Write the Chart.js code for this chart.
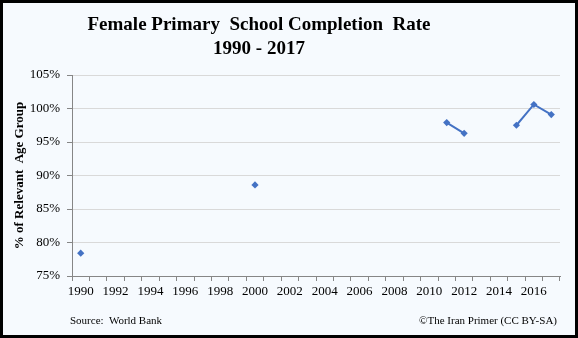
<!DOCTYPE html>
<html><head><meta charset="utf-8">
<script src="https://cdn.jsdelivr.net/npm/chart.js@4/dist/chart.umd.min.js"></script>
<style>
html,body{margin:0;padding:0;background:#fff;}
#frame{position:absolute;left:0;top:0;width:578px;height:338px;box-sizing:border-box;border:3px solid #000;background:#F6FAFE;}
#wrap{position:absolute;left:3px;top:3px;width:572px;height:332px;}
.t{position:absolute;font-family:"Liberation Serif","Times New Roman",serif;color:#000;white-space:pre;}
#title{left:0;top:12px;width:518px;text-align:center;font-size:19px;font-weight:bold;line-height:24px;}
#src{left:70px;top:314px;font-size:11px;line-height:13px;}
#cr{right:21px;top:314px;font-size:11px;line-height:13px;}
</style></head>
<body>
<div id="frame"></div>
<div id="wrap"><canvas id="c" width="572" height="332"></canvas></div>
<div class="t" id="title">Female Primary  School Completion  Rate
1990 - 2017</div>
<div class="t" id="src">Source:  World Bank</div>
<div class="t" id="cr">©The Iran Primer (CC BY-SA)</div>
<script>
const years = ['1990','1991','1992','1993','1994','1995','1996','1997','1998','1999','2000','2001','2002','2003','2004','2005','2006','2007','2008','2009','2010','2011','2012','2013','2014','2015','2016','2017'];
const completionRate = [78.4,null,null,null,null,null,null,null,null,null,88.6,null,null,null,null,null,null,null,null,null,null,97.9,96.3,null,null,97.5,100.6,99.1];
const yTicks = [75,80,85,90,95,100,105];
const yAxisTitle = '% of Relevant  Age Group';

new Chart(document.getElementById('c'), {
  type: 'line',
  data: {
    labels: years,
    datasets: [{
      data: completionRate,
      borderColor: '#4472C4',
      backgroundColor: '#4472C4',
      borderWidth: 2,
      pointStyle: 'rectRot',
      pointRadius: 3.6,
      pointBorderWidth: 0,
      spanGaps: false,
      tension: 0
    }]
  },
  options: {
    responsive: false,
    animation: false,
    layout: { padding: { top: 72, right: 15, bottom: 0, left: 0 } },
    plugins: { legend: { display: false }, tooltip: { enabled: false }, title: { display: false } },
    scales: {
      x: {
        type: 'category',
        offset: true,
        grid: { display: true, offset: true, drawOnChartArea: false, tickLength: 5, tickColor: '#868686' },
        border: { color: '#868686' },
        ticks: {
          autoSkip: false, maxRotation: 0, minRotation: 0, padding: 3,
          color: '#000',
          font: { family: '"Liberation Serif", serif', size: 13 },
          callback: (v, i) => (i % 2 === 0 ? years[i] : '')
        },
        afterFit: s => { s.height = 59; }
      },
      y: {
        min: 75, max: 105,
        afterBuildTicks: s => { s.ticks = yTicks.map(v => ({ value: v })); },
        grid: { color: '#D9D9D9', tickLength: 5, tickColor: '#868686' },
        border: { color: '#868686' },
        ticks: {
          padding: 7, color: '#000',
          font: { family: '"Liberation Serif", serif', size: 13 },
          callback: v => v + '%'
        },
        title: {
          display: true, text: yAxisTitle, color: '#000',
          font: { family: '"Liberation Serif", serif', size: 13, weight: 'bold' },
          padding: { top: 9, bottom: 0 }
        },
        afterFit: s => { s.width = 69; }
      }
    }
  }
});
</script>
</body></html>
